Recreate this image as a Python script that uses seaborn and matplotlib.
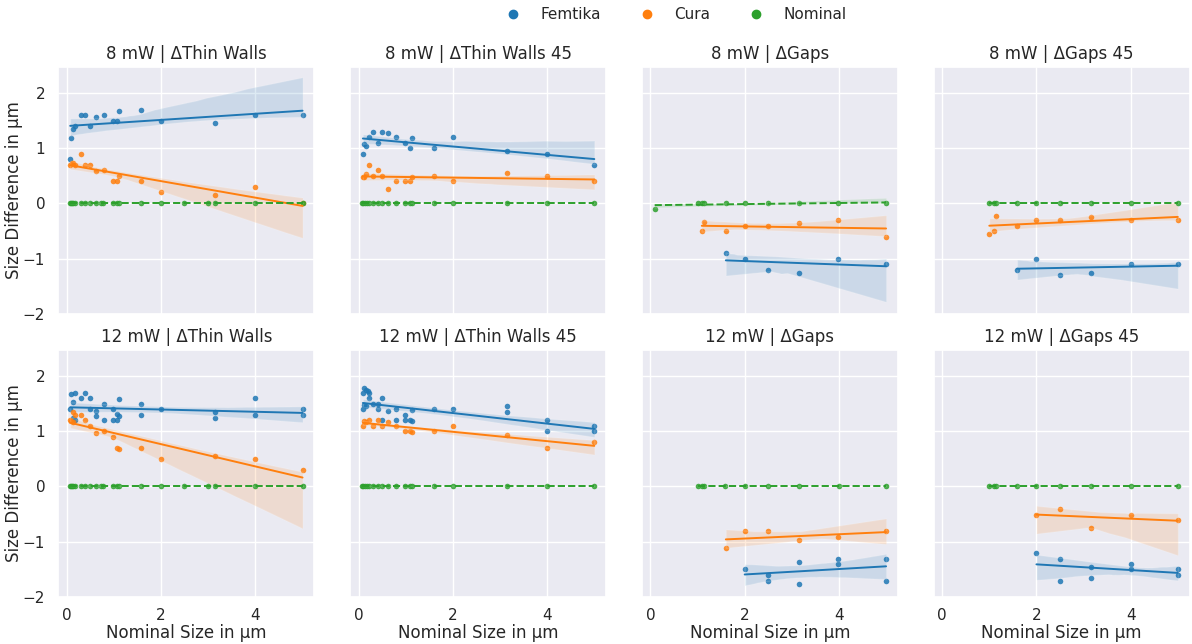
import numpy as np
import pandas as pd
import seaborn as sns
import matplotlib
matplotlib.use("Agg")
import matplotlib.pyplot as plt
from matplotlib.lines import Line2D

# ---------------- data ----------------
powers = ["8 mW", "12 mW"]
structures = ["Thin Walls", "Thin Walls 45", "Gaps", "Gaps 45"]
series_names = ["Femtika", "Cura", "Nominal"]

# 8 mW | Thin Walls
tw8_fem_x = [0.07, 0.09, 0.13, 0.18, 0.29, 0.39, 0.48, 0.61, 0.78, 0.98, 1.07, 1.11, 1.58, 1.99, 3.14, 4.0, 5.0]
tw8_fem_y = [0.81, 1.18, 1.34, 1.40, 1.60, 1.60, 1.40, 1.57, 1.60, 1.50, 1.50, 1.68, 1.70, 1.50, 1.45, 1.60, 1.60]
tw8_cur_x = [0.07, 0.10, 0.13, 0.18, 0.29, 0.39, 0.48, 0.61, 0.78, 0.98, 1.07, 1.11, 1.58, 1.99, 3.14, 4.0, 5.0]
tw8_cur_y = [0.69, 0.74, 0.73, 0.70, 0.89, 0.70, 0.70, 0.58, 0.60, 0.40, 0.40, 0.49, 0.40, 0.20, 0.15, 0.30, 0.0]
tw_nom_x = [0.06, 0.08, 0.11, 0.14, 0.18, 0.29, 0.39, 0.48, 0.61, 0.72, 0.77, 0.98, 1.07, 1.11, 1.58, 1.99, 2.49, 3.0, 3.14, 4.0, 5.0]
tw_nom_y = [0.0, 0.0, 0.0, 0.0, 0.0, 0.0, 0.0, 0.0, 0.0, 0.0, 0.0, 0.0, 0.0, 0.0, 0.0, 0.0, 0.0, 0.0, 0.0, 0.0, 0.0]

# 8 mW | Thin Walls 45
tw45_8_fem_x = [0.09, 0.12, 0.16, 0.21, 0.31, 0.40, 0.49, 0.63, 0.80, 0.99, 1.09, 1.13, 1.60, 2.0, 3.15, 3.99, 5.0]
tw45_8_fem_y = [0.90, 1.08, 1.04, 1.20, 1.30, 1.10, 1.30, 1.27, 1.20, 1.10, 1.00, 1.18, 1.00, 1.20, 0.95, 0.90, 0.70]
tw45_8_cur_x = [0.09, 0.12, 0.16, 0.21, 0.31, 0.40, 0.49, 0.63, 0.80, 0.99, 1.09, 1.13, 1.60, 2.0, 3.15, 3.99, 5.0]
tw45_8_cur_y = [0.48, 0.48, 0.54, 0.70, 0.49, 0.60, 0.49, 0.27, 0.40, 0.40, 0.40, 0.48, 0.50, 0.40, 0.55, 0.50, 0.40]
tw45_nom_x = [0.07, 0.10, 0.14, 0.17, 0.21, 0.31, 0.40, 0.49, 0.63, 0.80, 0.99, 1.09, 1.13, 1.60, 2.0, 3.15, 3.99, 5.0]
tw45_nom_y = [0.0, 0.0, 0.0, 0.0, 0.0, 0.0, 0.0, 0.0, 0.0, 0.0, 0.0, 0.0, 0.0, 0.0, 0.0, 0.0, 0.0, 0.0]

# 8 mW | Gaps
g8_fem_x = [1.6, 2.0, 2.49, 3.15, 3.99, 5.0]
g8_fem_y = [-0.90, -1.00, -1.20, -1.25, -1.00, -1.10]
g8_cur_x = [1.09, 1.13, 1.6, 2.0, 2.49, 3.15, 3.99, 5.0]
g8_cur_y = [-0.50, -0.33, -0.50, -0.40, -0.40, -0.35, -0.30, -0.60]
g8_nom_x = [0.09, 1.0, 1.09, 1.13, 1.6, 2.0, 2.49, 3.15, 3.99, 5.0]
g8_nom_y = [-0.10, 0.0, 0.0, 0.0, 0.0, 0.0, 0.0, 0.0, 0.0, 0.0]

# 8 mW | Gaps 45
g45_8_fem_x = [1.59, 2.0, 2.5, 3.15, 4.0, 5.0]
g45_8_fem_y = [-1.20, -1.00, -1.30, -1.25, -1.10, -1.10]
g45_8_cur_x = [1.0, 1.1, 1.14, 1.59, 2.0, 2.5, 3.15, 4.0, 5.0]
g45_8_cur_y = [-0.55, -0.50, -0.23, -0.40, -0.30, -0.30, -0.25, -0.30, -0.30]
g_nom_x = [1.0, 1.1, 1.14, 1.59, 2.0, 2.5, 3.15, 4.0, 5.0]
g_nom_y = [0.0, 0.0, 0.0, 0.0, 0.0, 0.0, 0.0, 0.0, 0.0]

# 12 mW | Thin Walls
tw12_fem_x = [0.07, 0.09, 0.13, 0.14, 0.18, 0.18, 0.29, 0.39, 0.48, 0.48, 0.61, 0.61, 0.78, 0.78,
              0.98, 0.98, 1.07, 1.07, 1.11, 1.11, 1.58, 1.58, 1.99, 3.14, 3.14, 4.0, 4.0, 5.0, 5.0]
tw12_fem_y = [1.40, 1.68, 1.53, 1.24, 1.70, 1.20, 1.60, 1.70, 1.60, 1.40, 1.37, 1.27, 1.50, 1.20,
              1.40, 1.20, 1.31, 1.20, 1.58, 1.28, 1.50, 1.30, 1.40, 1.35, 1.24, 1.60, 1.30, 1.40, 1.30]
tw12_cur_x = [0.07, 0.09, 0.13, 0.14, 0.18, 0.29, 0.39, 0.48, 0.61, 0.78, 0.98, 1.07, 1.11, 1.58, 1.99, 3.14, 4.0, 5.0]
tw12_cur_y = [1.20, 1.19, 1.34, 1.17, 1.30, 1.29, 1.20, 1.10, 0.97, 1.00, 0.90, 0.70, 0.68, 0.70, 0.50, 0.55, 0.50, 0.30]

# 12 mW | Thin Walls 45
tw45_12_fem_x = [0.09, 0.12, 0.15, 0.19, 0.21, 0.09, 0.12, 0.16, 0.21, 0.31, 0.40, 0.40, 0.49, 0.49, 0.63,
                 0.80, 0.80, 0.99, 0.99, 1.09, 1.13, 1.13, 1.60, 2.0, 3.15, 3.15, 3.99, 3.99, 5.0, 5.0]
tw45_12_fem_y = [1.70, 1.78, 1.75, 1.72, 1.70, 1.40, 1.48, 1.45, 1.60, 1.49, 1.49, 1.40, 1.60, 1.20, 1.37,
                 1.40, 1.20, 1.30, 1.20, 1.20, 1.18, 1.38, 1.40, 1.40, 1.45, 1.35, 1.20, 1.00, 1.10, 1.00]
tw45_12_cur_x = [0.09, 0.12, 0.16, 0.21, 0.31, 0.40, 0.49, 0.63, 0.80, 0.99, 1.09, 1.13, 1.60, 2.0, 3.15, 3.99, 5.0]
tw45_12_cur_y = [1.10, 1.19, 1.16, 1.20, 1.09, 1.20, 1.10, 1.17, 1.10, 1.00, 1.00, 0.98, 1.00, 1.10, 0.94, 0.70, 0.80]

# 12 mW | Gaps
g12_fem_x = [2.0, 2.49, 2.49, 3.15, 3.15, 3.99, 3.99, 5.0, 5.0]
g12_fem_y = [-1.50, -1.61, -1.71, -1.36, -1.76, -1.31, -1.41, -1.31, -1.71]
g12_cur_x = [1.6, 2.0, 2.49, 3.15, 3.99, 5.0]
g12_cur_y = [-1.11, -0.81, -0.81, -0.96, -0.91, -0.81]

# 12 mW | Gaps 45
g45_12_fem_x = [2.0, 2.5, 2.5, 3.15, 3.15, 4.0, 4.0, 5.0, 5.0]
g45_12_fem_y = [-1.21, -1.31, -1.71, -1.46, -1.66, -1.41, -1.50, -1.50, -1.61]
g45_12_cur_x = [2.0, 2.5, 3.15, 4.0, 5.0]
g45_12_cur_y = [-0.51, -0.40, -0.76, -0.51, -0.61]

yticks = [-2, -1, 0, 1, 2]
xticks = [0, 2, 4]

panels = [
    [  # 8 mW
        [(tw8_fem_x, tw8_fem_y), (tw8_cur_x, tw8_cur_y), (tw_nom_x, tw_nom_y)],
        [(tw45_8_fem_x, tw45_8_fem_y), (tw45_8_cur_x, tw45_8_cur_y), (tw45_nom_x, tw45_nom_y)],
        [(g8_fem_x, g8_fem_y), (g8_cur_x, g8_cur_y), (g8_nom_x, g8_nom_y)],
        [(g45_8_fem_x, g45_8_fem_y), (g45_8_cur_x, g45_8_cur_y), (g_nom_x, g_nom_y)],
    ],
    [  # 12 mW
        [(tw12_fem_x, tw12_fem_y), (tw12_cur_x, tw12_cur_y), (tw_nom_x, tw_nom_y)],
        [(tw45_12_fem_x, tw45_12_fem_y), (tw45_12_cur_x, tw45_12_cur_y), (tw45_nom_x, tw45_nom_y)],
        [(g12_fem_x, g12_fem_y), (g12_cur_x, g12_cur_y), (g_nom_x, g_nom_y)],
        [(g45_12_fem_x, g45_12_fem_y), (g45_12_cur_x, g45_12_cur_y), (g_nom_x, g_nom_y)],
    ],
]

# ---------------- plot ----------------
sns.set_theme(style="darkgrid", context="notebook")
colors = sns.color_palette("tab10")[:3]
linestyles = ["-", "-", "--"]

fig, axes = plt.subplots(2, 4, figsize=(11.92, 6.44), dpi=100, sharex=True, sharey=True)
fig.subplots_adjust(left=0.049, right=0.998, top=0.896, bottom=0.073, wspace=0.14, hspace=0.146)

for r, power in enumerate(powers):
    for c, struct in enumerate(structures):
        ax = axes[r, c]
        for s, (xs, ys) in enumerate(panels[r][c]):
            df = pd.DataFrame({"x": xs, "y": ys})
            sns.regplot(data=df, x="x", y="y", ax=ax, color=colors[s], seed=1,
                        scatter_kws={"s": 16, "alpha": 0.85, "linewidths": 0},
                        line_kws={"lw": 1.4, "ls": linestyles[s]})
        ax.set_title(f"{power} | \u0394{struct}", fontsize=12)
        ax.set_xlabel("Nominal Size in \u00b5m" if r == 1 else "", labelpad=1)
        ax.set_ylabel("Size Difference in \u00b5m" if c == 0 else "", labelpad=0)
        ax.tick_params(axis="x", pad=2)
        ax.set_yticks(yticks)
        ax.set_xticks(xticks)

axes[0, 0].set_xlim(-0.18, 5.25)
axes[0, 0].set_ylim(-2.0, 2.47)

handles = [Line2D([0], [0], marker="o", ls="", color=colors[i], markersize=6) for i in range(3)]
fig.legend(handles, series_names, loc="center", bbox_to_anchor=(0.564, 0.977), ncol=3,
           frameon=False, fontsize=11, columnspacing=2.0, handletextpad=0.8)

fig.savefig("out.png", dpi=100)
